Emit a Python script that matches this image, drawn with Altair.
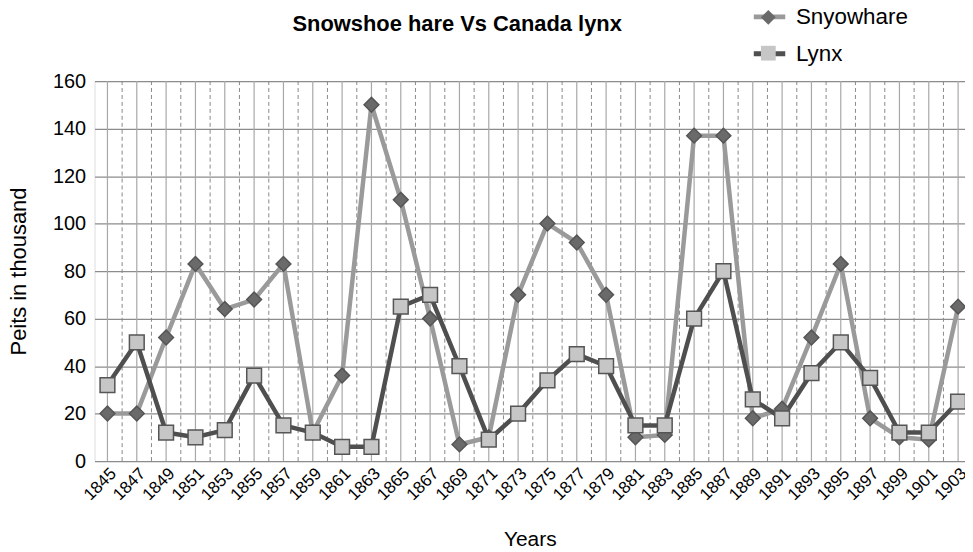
import altair as alt
import pandas as pd

years = list(range(1845, 1904, 2))
hare = [20, 20, 52, 83, 64, 68, 83, 12, 36, 150, 110, 60, 7, 10, 70, 100, 92, 70,
        10, 11, 137, 137, 18, 22, 52, 83, 18, 10, 9, 65]
lynx = [32, 50, 12, 10, 13, 36, 15, 12, 6, 6, 65, 70, 40, 9, 20, 34, 45, 40,
        15, 15, 60, 80, 26, 18, 37, 50, 35, 12, 12, 25]
series_names = ["Snyowhare", "Lynx"]
grid_years = list(range(1845, 1904))

FONT = "Liberation Sans"

rows = []
for y, h, l in zip(years, hare, lynx):
    rows.append({"year": y, "value": h, "series": series_names[0]})
    rows.append({"year": y, "value": l, "series": series_names[1]})
df = pd.DataFrame(rows)
df["series_p"] = df["series"]

grid_df = pd.DataFrame({"year": grid_years,
                        "kind": ["solid" if g % 2 == 1 else "dash" for g in grid_years]})

xscale = alt.Scale(domain=[1844.12, 1903.47], nice=False, zero=False)
yscale = alt.Scale(domain=[0, 160], nice=False)

xaxis = alt.Axis(values=years, format="d", labelAngle=-45, labelFontSize=17,
                 labelFont=FONT, labelColor="#000", ticks=False, domain=False,
                 grid=False, title="Years", titleFont=FONT, titleFontSize=21,
                 titleFontWeight="normal", titleColor="#000", titleY=85,
                 titleBaseline="alphabetic", labelPadding=4, labelOverlap=False)
yaxis = alt.Axis(values=list(range(0, 161, 20)), labelFontSize=20, labelFont=FONT,
                 labelColor="#000", ticks=False, domain=False, gridColor="#8c8c8c",
                 gridWidth=1.2, title="Peits in thousand", titleFont=FONT,
                 titleFontSize=22, titleFontWeight="normal", titleColor="#000",
                 titlePadding=22, labelPadding=9)

x_enc = alt.X("year:Q", scale=xscale, axis=xaxis, title="Years")
y_enc = alt.Y("value:Q", scale=yscale, axis=yaxis, title="Peits in thousand")

grid_solid = alt.Chart(grid_df).transform_filter(alt.datum.kind == "solid").mark_rule(
    color="#a8a8a8", strokeWidth=1.2
).encode(x=x_enc)

grid_dash = alt.Chart(grid_df).transform_filter(alt.datum.kind == "dash").mark_rule(
    color="#888888", strokeWidth=1, strokeDash=[4, 3]
).encode(x=x_enc)

base = alt.Chart(df)

lines = base.mark_line(strokeWidth=4.5).encode(
    x=x_enc,
    y=y_enc,
    stroke=alt.Stroke("series:N", sort=series_names,
                      scale=alt.Scale(range=["#9a9a9a", "#4f4f4f"]),
                      legend=alt.Legend(orient="none", legendX=660, legendY=-83, title=None,
                                        symbolType="stroke", symbolSize=1000,
                                        symbolStrokeWidth=5, labelFontSize=22.5,
                                        labelFont=FONT, labelColor="#000", labelOffset=8,
                                        rowPadding=7, padding=0)),
    detail="series:N",
)

legend_pt = alt.Legend(orient="none", legendX=668.8, legendY=-72.5, title=None,
                       symbolSize=220, symbolStrokeColor="#555555", symbolStrokeWidth=1.5,
                       symbolOpacity=1, labelExpr="''", labelFontSize=1, labelOffset=0,
                       rowPadding=15, padding=0)

points = base.mark_point(filled=True, size=220, opacity=1, stroke="#555555",
                         strokeWidth=1.5).encode(
    x=x_enc,
    y=y_enc,
    shape=alt.Shape("series_p:N",
                    scale=alt.Scale(domain=series_names, range=["diamond", "square"]),
                    legend=legend_pt),
    color=alt.Color("series_p:N",
                    scale=alt.Scale(domain=series_names, range=["#6a6a6a", "#c6c6c6"]),
                    legend=legend_pt),
)

chart = alt.layer(grid_solid, grid_dash, lines, points).properties(
    width=875, height=382,
    autosize=alt.AutoSizeParams(type="none"),
    padding={"left": 87, "top": 72, "right": 0, "bottom": 88},
    title=alt.TitleParams("Snowshoe hare Vs Canada lynx", font=FONT, fontSize=22,
                          fontWeight="bold", color="#000", anchor="middle", dx=-73,
                          offset=0, dy=38),
).configure_view(
    stroke="#9a9a9a", strokeDash=[2, 2], strokeWidth=1.2
).configure(background="white")

chart.save("out.html", embed_options={"renderer": "svg", "actions": False})
